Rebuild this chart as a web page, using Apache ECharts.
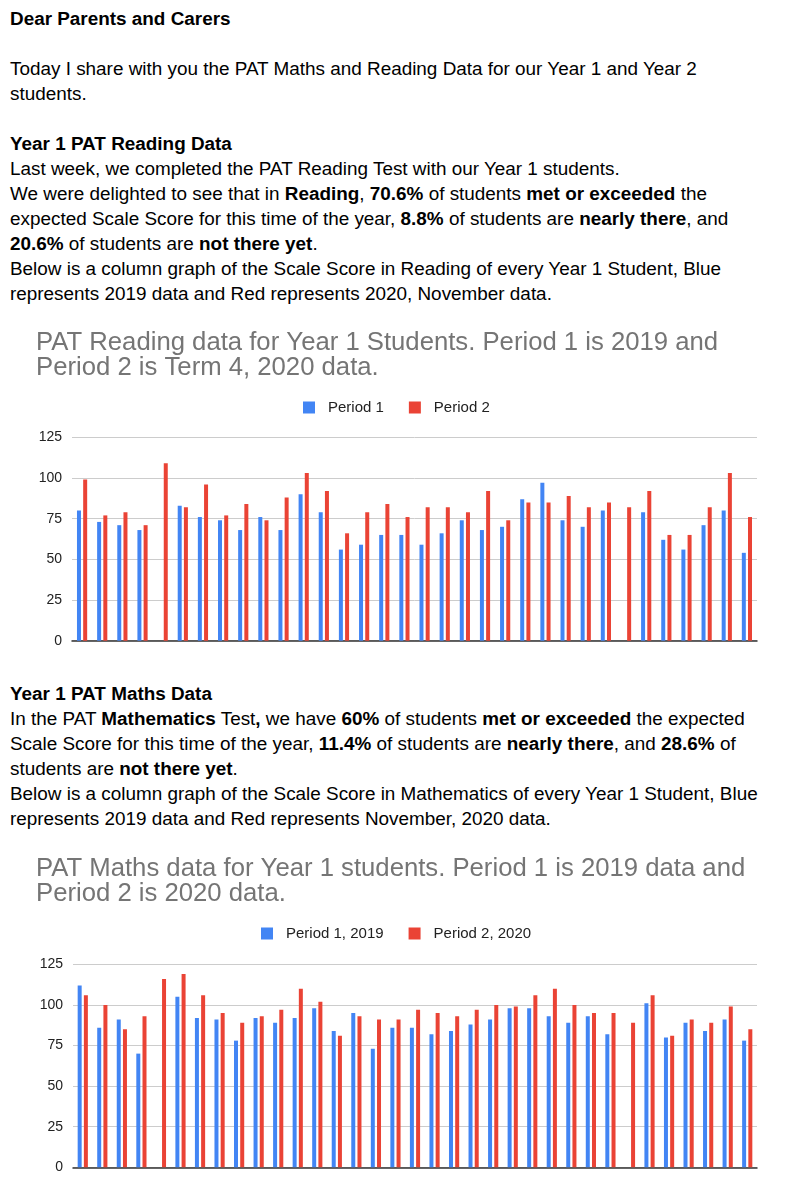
<!DOCTYPE html>
<html><head><meta charset="utf-8">
<script src="https://cdn.jsdelivr.net/npm/echarts@6/dist/echarts.min.js"></script>
<style>
html,body{margin:0;padding:0;background:#fff;width:786px;height:1200px;overflow:hidden;font-family:"Liberation Sans",Arial,sans-serif;color:#000;}
.txt{position:absolute;left:10px;font-size:18.9px;line-height:25px;white-space:nowrap;}
.chart{position:absolute;left:0;width:786px;}
</style></head><body>
<div class="txt" style="top:6px">
<b>Dear Parents and Carers</b><br><br>
Today I share with you the PAT Maths and Reading Data for our Year 1 and Year 2<br>students.<br><br>
<b>Year 1 PAT Reading Data</b><br>
Last week, we completed the PAT Reading Test with our Year 1 students.<br>
We were delighted to see that in <b>Reading</b>, <b>70.6%</b> of students <b>met or exceeded</b> the<br>
expected Scale Score for this time of the year, <b>8.8%</b> of students are <b>nearly there</b>, and<br>
<b>20.6%</b> of students are <b>not there yet</b>.<br>
Below is a column graph of the Scale Score in Reading of every Year 1 Student, Blue<br>
represents 2019 data and Red represents 2020, November data.
</div>
<div id="c1" class="chart" style="top:320px;height:340px"></div>
<div class="txt" style="top:680.5px">
<b>Year 1 PAT Maths Data</b><br>
In the PAT <b>Mathematics</b> Test<b>,</b> we have <b>60%</b> of students <b>met or exceeded</b> the expected<br>
Scale Score for this time of the year, <b>11.4%</b> of students are <b>nearly there</b>, and <b>28.6%</b> of<br>
students are <b>not there yet</b>.<br>
Below is a column graph of the Scale Score in Mathematics of every Year 1 Student, Blue<br>
represents 2019 data and Red represents November, 2020 data.
</div>
<div id="c2" class="chart" style="top:845px;height:355px"></div>
<script>
// ---- Chart 1: PAT Reading ----
const readingStudents = ["S1","S2","S3","S4","S5","S6","S7","S8","S9","S10","S11","S12","S13","S14","S15","S16","S17","S18","S19","S20","S21","S22","S23","S24","S25","S26","S27","S28","S29","S30","S31","S32","S33","S34"];
const readingPeriod1 = [80,73,71,68,null,83,76,74,68,76,68,90,79,56,59,65,65,59,66,74,68,70,87,97,74,70,80,null,79,62,56,71,80,54];
const readingPeriod2 = [99,77,79,71,109,82,96,77,84,74,88,103,92,66,79,84,76,82,82,79,92,74,85,85,89,82,85,82,92,65,65,82,103,76];
const readingTitle = "PAT Reading data for Year 1 Students. Period 1 is 2019 and\nPeriod 2 is Term 4, 2020 data.";
const readingLegend = ["Period 1","Period 2"];

// ---- Chart 2: PAT Maths ----
const mathsStudents = ["S1","S2","S3","S4","S5","S6","S7","S8","S9","S10","S11","S12","S13","S14","S15","S16","S17","S18","S19","S20","S21","S22","S23","S24","S25","S26","S27","S28","S29","S30","S31","S32","S33","S34","S35"];
const mathsPeriod1 = [112,86,91,70,null,105,92,91,78,92,89,92,98,84,95,73,86,86,82,84,88,91,98,98,93,89,93,82,null,101,80,89,84,91,78];
const mathsPeriod2 = [106,100,85,93,116,119,106,95,89,93,97,110,102,81,93,91,91,97,95,93,97,100,99,106,110,100,95,95,89,106,81,91,89,99,85];
const mathsTitle = "PAT Maths data for Year 1 students. Period 1 is 2019 data and\nPeriod 2 is 2020 data.";
const mathsLegend = ["Period 1, 2019","Period 2, 2020"];

const yTicks = {min:0, max:125, interval:25};
const BLUE = '#4285f4', RED = '#ea4335';

function makeOption(cfg){
  return {
    animation:false,
    backgroundColor:'#fff',
    title:{text:cfg.title,left:36,top:cfg.titleTop,padding:0,
      textStyle:{fontFamily:'Liberation Sans, Arial, sans-serif',fontSize:25.7,fontWeight:'normal',color:'#757575',lineHeight:25}},
    legend:{data:cfg.legend,left:cfg.legendLeft,top:cfg.legendTop,padding:0,icon:'rect',itemWidth:12,itemHeight:12,itemGap:25,
      textStyle:{fontFamily:'Liberation Sans, Arial, sans-serif',fontSize:15,color:'#222',padding:[0,0,0,8]}},
    grid:{left:cfg.gridLeft,right:29,top:cfg.gridTop,height:cfg.gridHeight,containLabel:false},
    xAxis:{type:'category',data:cfg.cats,
      axisLine:{show:true,lineStyle:{color:'#333',width:1.5}},
      axisTick:{show:false},axisLabel:{show:false},splitLine:{show:false}},
    yAxis:{type:'value',min:yTicks.min,max:yTicks.max,interval:yTicks.interval,
      axisLine:{show:false},axisTick:{show:false},
      axisLabel:{margin:10,fontFamily:'Liberation Sans, Arial, sans-serif',fontSize:14,color:'#222'},
      splitLine:{lineStyle:{color:'#cccccc',width:1}}},
    series:[
      {name:cfg.legend[0],type:'bar',data:cfg.p1,barWidth:4,barGap:'55%',itemStyle:{color:BLUE}},
      {name:cfg.legend[1],type:'bar',data:cfg.p2,barWidth:4,barGap:'55%',itemStyle:{color:RED}}
    ]
  };
}

const c1 = echarts.init(document.getElementById('c1'),null,{renderer:'canvas'});
c1.setOption(makeOption({title:readingTitle,titleTop:10.4,legend:readingLegend,legendLeft:303,legendTop:80,
  gridLeft:72,gridTop:117.3,gridHeight:203.4,cats:readingStudents,p1:readingPeriod1,p2:readingPeriod2}));

const c2 = echarts.init(document.getElementById('c2'),null,{renderer:'canvas'});
c2.setOption(makeOption({title:mathsTitle,titleTop:11.7,legend:mathsLegend,legendLeft:261,legendTop:81,
  gridLeft:73,gridTop:119.3,gridHeight:203,cats:mathsStudents,p1:mathsPeriod1,p2:mathsPeriod2}));
</script>
</body></html>
